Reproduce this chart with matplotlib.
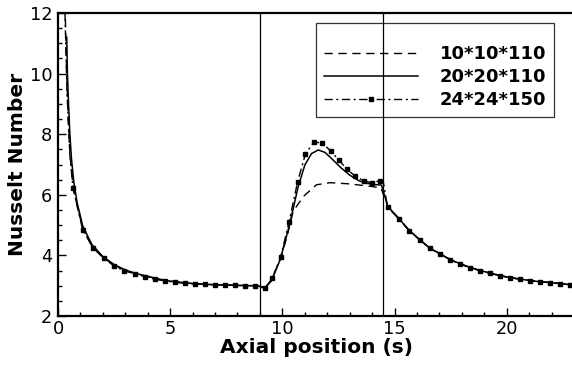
import matplotlib
matplotlib.use("Agg")
import matplotlib.pyplot as plt
from matplotlib.lines import Line2D
from matplotlib.ticker import MultipleLocator

plt.rcParams['font.family'] = ['DejaVu Sans']

# 24*24*150 (dash-dot with square markers)
x24 = [0.31, 0.40, 0.53, 0.67, 1.10, 1.57, 2.05, 2.50, 2.95, 3.43, 3.88, 4.32, 4.77,
       5.21, 5.66, 6.10, 6.55, 6.99, 7.44, 7.88, 8.33, 8.78, 9.22, 9.56, 9.93,
       10.30, 10.68, 11.03, 11.40, 11.77, 12.15, 12.52, 12.87, 13.24, 13.63, 13.99,
       14.34, 14.48, 14.69, 15.20, 15.65, 16.12, 16.57, 17.02, 17.49, 17.94, 18.38,
       18.83, 19.24, 19.69, 20.13, 20.58, 21.02, 21.50, 21.95, 22.39, 22.80, 23.0]
y24 = [12.0, 9.4, 7.3, 6.22, 4.84, 4.24, 3.90, 3.65, 3.49, 3.39, 3.30, 3.21, 3.16,
       3.11, 3.08, 3.06, 3.05, 3.03, 3.02, 3.01, 3.00, 3.00, 2.92, 3.24, 3.96,
       5.11, 6.43, 7.35, 7.73, 7.72, 7.45, 7.15, 6.85, 6.62, 6.46, 6.40,
       6.46, 6.50, 5.59, 5.20, 4.82, 4.51, 4.23, 4.05, 3.85, 3.71, 3.59,
       3.49, 3.41, 3.33, 3.26, 3.22, 3.17, 3.13, 3.10, 3.07, 3.03, 3.02]
mark24 = [3, 4, 5, 6, 7, 8, 9, 10, 11, 12, 13, 14, 15, 16, 17, 18, 19, 20, 21, 22, 23,
          24, 25, 26, 27, 28, 29, 30, 31, 32, 33, 34, 35, 36, 38, 39, 40, 41, 42, 43,
          44, 45, 46, 47, 48, 49, 50, 51, 52, 53, 54, 55, 56]

# 20*20*110 (solid)
x20 = [0.39, 0.42, 0.47, 0.53, 0.60, 0.70, 0.85, 1.10, 1.50, 2.00, 2.50, 3.00, 3.50,
       4.00, 4.50, 5.00, 6.00, 7.00, 8.00, 8.80, 9.10, 9.25, 9.50, 9.90, 10.30,
       10.70, 11.00, 11.30, 11.60, 11.90, 12.26, 12.60, 13.00, 13.40, 13.75, 14.10,
       14.42, 14.70, 15.20, 15.65, 16.12, 16.57, 17.02, 17.49, 17.94, 18.38, 18.83,
       19.24, 19.69, 20.13, 20.58, 21.02, 21.50, 21.95, 22.39, 22.80, 23.0]
y20 = [11.2, 10.0, 9.0, 8.0, 7.2, 6.45, 5.75, 4.98, 4.37, 3.96, 3.70, 3.52, 3.40,
       3.31, 3.22, 3.15, 3.07, 3.03, 3.01, 3.00, 2.96, 2.94, 3.15, 3.85, 4.95,
       6.25, 6.98, 7.36, 7.48, 7.40, 7.15, 6.90, 6.65, 6.47, 6.38, 6.34,
       6.32, 5.62, 5.21, 4.83, 4.52, 4.24, 4.06, 3.86, 3.72, 3.60, 3.50,
       3.42, 3.34, 3.27, 3.22, 3.17, 3.13, 3.10, 3.07, 3.04, 3.03]

# 10*10*110 (dashed)
x10 = [0.33, 0.38, 0.45, 0.53, 0.67, 0.85, 1.10, 1.50, 2.00, 2.50, 3.00, 3.50, 4.00,
       4.50, 5.00, 6.00, 7.00, 8.00, 8.80, 9.10, 9.25, 9.50, 9.90, 10.20, 10.48,
       10.93, 11.52, 12.12, 13.00, 14.04, 14.40, 14.70, 15.20, 15.65, 16.12, 16.57,
       17.02, 17.49, 17.94, 18.38, 18.83, 19.24, 19.69, 20.13, 20.58, 21.02, 21.50,
       21.95, 22.39, 22.80, 23.0]
y10 = [11.8, 10.2, 8.6, 7.4, 6.25, 5.65, 4.90, 4.32, 3.93, 3.68, 3.51, 3.39, 3.30,
       3.21, 3.15, 3.07, 3.03, 3.01, 3.00, 2.97, 2.96, 3.18, 3.85, 4.60, 5.45,
       5.94, 6.33, 6.40, 6.36, 6.27, 6.22, 5.62, 5.21, 4.83, 4.52, 4.24,
       4.06, 3.86, 3.72, 3.60, 3.50, 3.42, 3.34, 3.27, 3.22, 3.17, 3.13,
       3.10, 3.07, 3.04, 3.03]

vlines = [9.0, 14.5]
labels = ['10*10*110', '20*20*110', '24*24*150']

fig = plt.figure(figsize=(5.72, 3.67), dpi=100)
ax = fig.add_axes([58/572, 51/367, 516/572, 303/367])

dash = (0, (6, 4))
dashdot = (0, (6, 2.5, 1.5, 2.5))
ax.plot(x10, y10, color='black', lw=1.0, linestyle=dash)
ax.plot(x20, y20, color='black', lw=1.1, linestyle='-')
ax.plot(x24, y24, color='black', lw=1.0, linestyle=dashdot)
ax.plot([x24[i] for i in mark24], [y24[i] for i in mark24], linestyle='none',
        marker='s', markersize=3.2, color='black')
for v in vlines:
    ax.axvline(v, color='black', lw=0.9)

ax.set_xlim(0, 23)
ax.set_ylim(2, 12)
ax.xaxis.set_major_locator(MultipleLocator(5))
ax.xaxis.set_minor_locator(MultipleLocator(1))
ax.yaxis.set_major_locator(MultipleLocator(2))
ax.yaxis.set_minor_locator(MultipleLocator(0.5))
ax.tick_params(which='both', direction='in', top=False, right=False,
               labelsize=12.8, width=1.0)
ax.tick_params(which='major', length=5.5)
ax.tick_params(axis='x', which='major', pad=3)
ax.tick_params(axis='y', which='major', pad=4)
ax.tick_params(which='minor', length=3)
for s in ax.spines.values():
    s.set_linewidth(1.6)

ax.set_xlabel('Axial position (s)', fontsize=14.5, fontweight='bold', labelpad=0)
ax.set_ylabel('Nusselt Number', fontsize=14.5, fontweight='bold', labelpad=2)

handles = [
    Line2D([], [], color='black', lw=1.0, linestyle=dash),
    Line2D([], [], color='black', lw=1.1, linestyle='-'),
    Line2D([], [], color='black', lw=1.0, linestyle=dashdot, marker='s', markersize=3.2),
]
leg = ax.legend(handles, labels, loc='upper left', bbox_to_anchor=(258/516, 1 - 10/303),
                frameon=True, fancybox=False, edgecolor='black', facecolor='none',
                prop={'weight': 'bold', 'size': 13}, handlelength=5.2,
                handletextpad=1.2, labelspacing=0.28, borderpad=0.45, numpoints=1,
                borderaxespad=0, title=' ', title_fontsize=6)
leg.get_frame().set_linewidth(0.9)

fig.savefig('out.png', dpi=100)
